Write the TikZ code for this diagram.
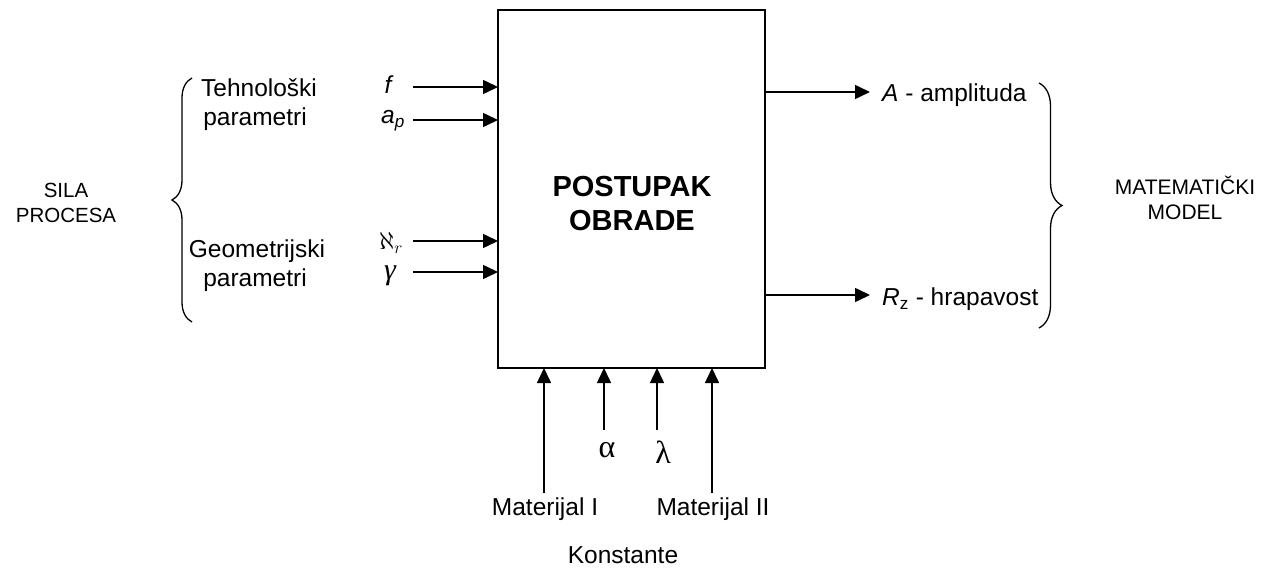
\documentclass[tikz,border=0pt]{standalone}
\usepackage{fontspec}
\setmainfont{Liberation Sans}
\newfontfamily\serifgr{Liberation Serif}
\usetikzlibrary{arrows.meta,decorations.pathreplacing}
\begin{document}
\begin{tikzpicture}[x=1pt,y=-1pt,
  conn/.style={line width=1.5pt,-{Triangle[length=15pt,width=14pt]}},
  lbl/.style={font=\fontsize{24.5}{28}\selectfont,inner sep=0pt},
  small/.style={font=\fontsize{20.5}{25}\selectfont,align=center,inner sep=0pt},
  greek/.style={font=\serifgr\fontsize{32}{34}\selectfont,inner sep=0pt},
  brc/.style={line width=1.3pt,decorate,decoration={brace,amplitude=#1}}]
\useasboundingbox (0,0) rectangle (1274,569);
\node[draw,line width=1.5pt,minimum width=267pt,minimum height=358pt,inner sep=0pt] (box) at (631.5,189) {};
\node[font=\fontsize{29}{34}\selectfont\bfseries,align=center,inner sep=0pt] (title) at (632,204) {POSTUPAK\\OBRADE};
% left inputs
\coordinate (f0) at (413,87);  \coordinate (f1) at (498,87);
\coordinate (a0) at (413,120); \coordinate (a1) at (498,120);
\coordinate (k0) at (413,241); \coordinate (k1) at (498,241);
\coordinate (g0) at (413,272); \coordinate (g1) at (498,272);
\draw[conn] (f0) -- (f1);
\draw[conn] (a0) -- (a1);
\draw[conn] (k0) -- (k1);
\draw[conn] (g0) -- (g1);
\node[lbl] (lf) at (389,85) {\textit{f}};
\node[lbl] (la) at (393,121) {\textit{a}\textsubscript{\textit{p}}};
\node[lbl] (lk) at (391,243) {$\aleph_{r}$};
\node[font=\serifgr\itshape\fontsize{30}{32}\selectfont,inner sep=0pt] (lg) at (390,276) {γ};
\node[lbl] (t1) at (259,88) {Tehnološki};
\node[lbl] (t2) at (255,119) {parametri};
\node[lbl] (g1t) at (257,251) {Geometrijski};
\node[lbl] (g2t) at (255,280) {parametri};
\coordinate (lb0) at (192,322); \coordinate (lb1) at (192,78);
\draw[brc=20pt] (lb0) -- (lb1);
\node[small] (sila) at (66,203) {SILA\\PROCESA};
% outputs
\coordinate (o1a) at (765,92);  \coordinate (o1b) at (870,92);
\coordinate (o2a) at (765,295); \coordinate (o2b) at (870,295);
\draw[conn] (o1a) -- (o1b);
\draw[conn] (o2a) -- (o2b);
\node[lbl,anchor=west] (amp) at (882,95) {\textit{A} - amplituda};
\node[lbl,anchor=west] (rz) at (882,299) {\textit{R}\textsubscript{z} - hrapavost};
\coordinate (rb0) at (1039,83); \coordinate (rb1) at (1039,328);
\draw[brc=23pt] (rb0) -- (rb1);
\node[font=\fontsize{21}{25}\selectfont,align=center,inner sep=0pt] (mm) at (1185,198) {MATEMATIČKI\\MODEL};
% bottom inputs
\coordinate (m1) at (544,493); \coordinate (m1t) at (544,368);
\coordinate (al) at (604,430); \coordinate (alt) at (604,368);
\coordinate (la0) at (657,430); \coordinate (lat) at (657,368);
\coordinate (m2) at (712,493); \coordinate (m2t) at (712,368);
\draw[conn] (m1) -- (m1t);
\draw[conn] (al) -- (alt);
\draw[conn] (la0) -- (lat);
\draw[conn] (m2) -- (m2t);
\node[greek] (alpha) at (607,450) {α};
\node[greek] (lambda) at (663,452) {λ};
\node[lbl] (mat1) at (545,509) {Materijal I};
\node[lbl] (mat2) at (713,509) {Materijal II};
\node[lbl] (konst) at (623,555) {Konstante};
\end{tikzpicture}
\end{document}
